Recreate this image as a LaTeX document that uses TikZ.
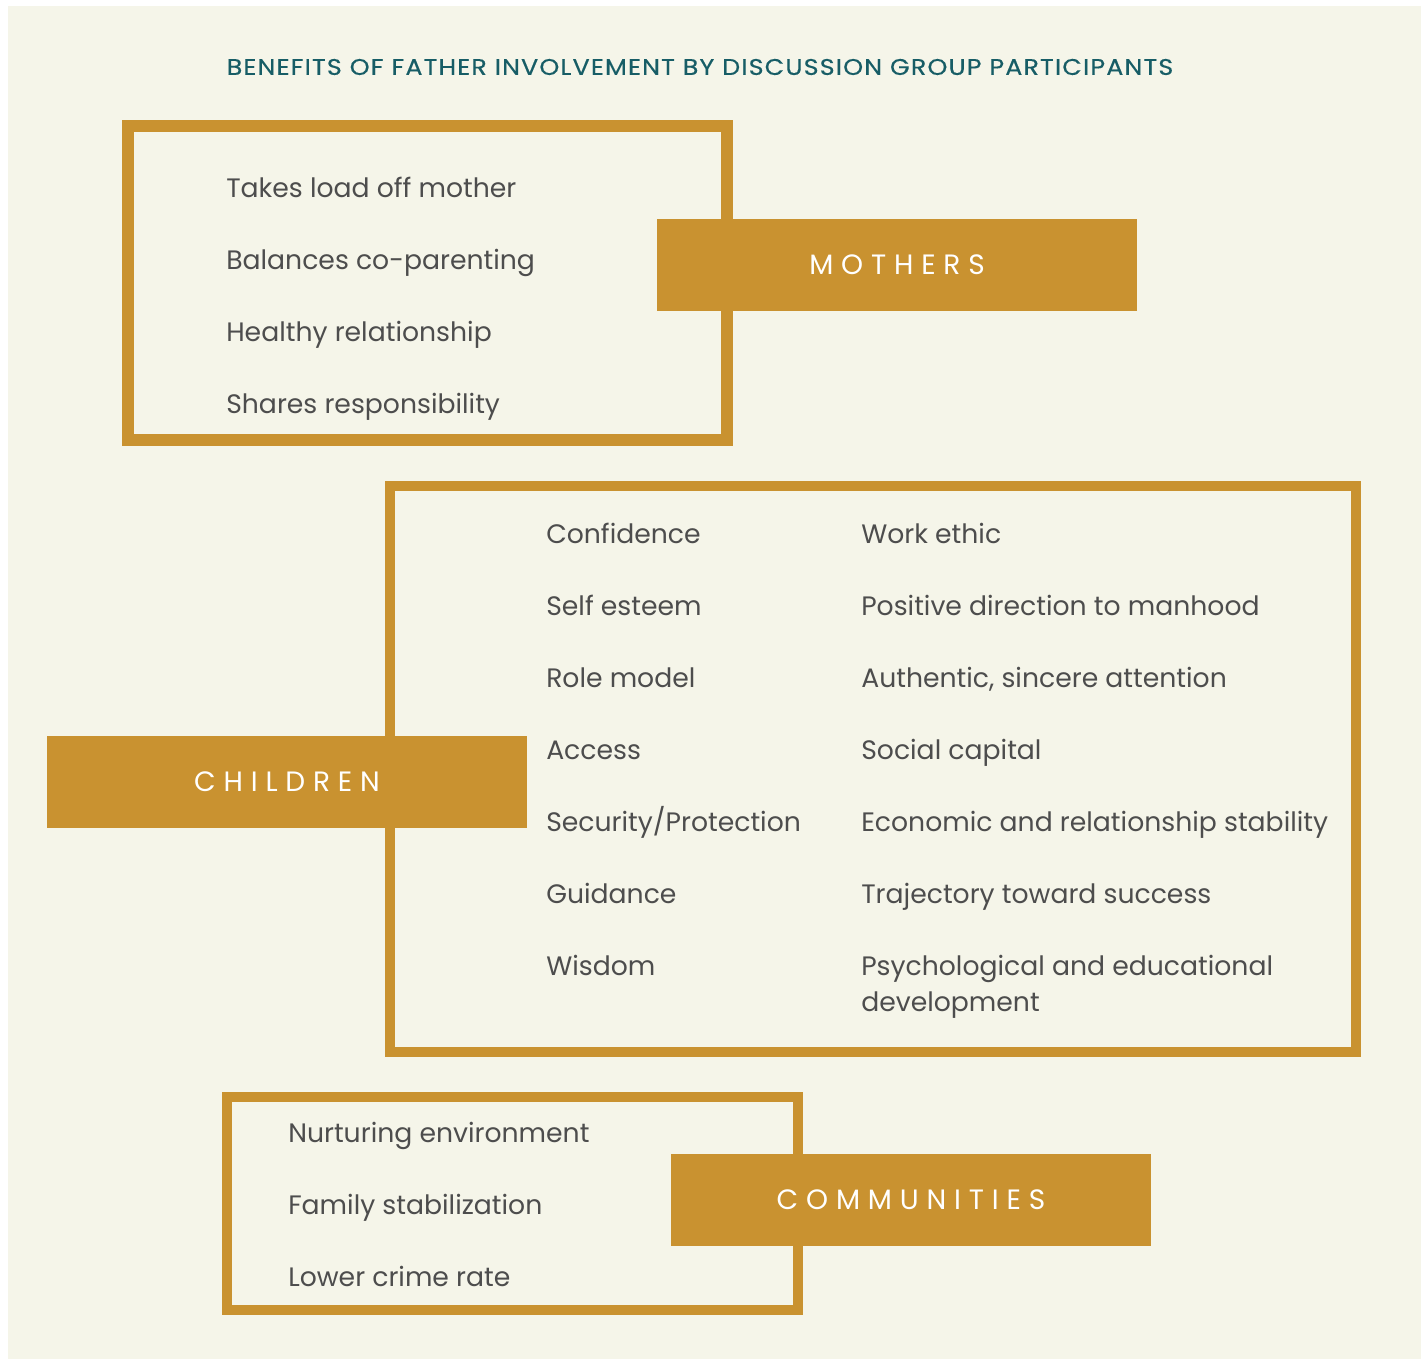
\documentclass[tikz,border=0pt]{standalone}
\usepackage{fontspec}
\setmainfont{Poppins}
\newfontfamily\tagfont[LetterSpace=28]{Poppins}
\newfontfamily\headfont[FakeStretch=1.12,LetterSpace=5,FakeBold=0.4]{Poppins}
\usetikzlibrary{positioning}
\definecolor{paper}{HTML}{F5F5E9}
\definecolor{gold}{HTML}{C99230}
\definecolor{headteal}{HTML}{175D66}
\definecolor{ink}{HTML}{4D4D4D}

\begin{document}
\begin{tikzpicture}[
    x=0.75pt, y=-0.75pt,
    frame/.style={draw=gold,line width=7.3pt},
    tag/.style={fill=gold,text=white,minimum width=360pt,minimum height=69pt,
                inner sep=0pt,font=\tagfont\fontsize{21}{24}\selectfont},
    item/.style={anchor=base west,text=ink,inner sep=0pt,align=left,
                 font=\fontsize{20}{27}\selectfont},
  ]

  \useasboundingbox (0,0) rectangle (1426,1359);
  \fill[paper] (8,6) rectangle (1421,1359);

  % --- title
  \node[text=headteal,font=\headfont\fontsize{17}{20}\selectfont] (title) at (700,67)
    {BENEFITS OF FATHER INVOLVEMENT BY DISCUSSION GROUP PARTICIPANTS};

  % --- mothers
  \draw[frame,line width=8.7pt] (128,126) rectangle (727,440);
  \node[item] (m1) at (226,197) {Takes load off mother};
  \node[item] (m2) at (226,269) {Balances co-parenting};
  \node[item] (m3) at (226,341) {Healthy relationship};
  \node[item] (m4) at (226,413) {Shares responsibility};
  \node[tag] (mothers) at (897,265) {MOTHERS};

  % --- children, left column
  \draw[frame] (390,486) rectangle (1356,1052);
  \node[item] (c1) at (546,543) {Confidence};
  \node[item] (c2) at (546,615) {Self esteem};
  \node[item] (c3) at (546,687) {Role model};
  \node[item] (c4) at (546,759) {Access};
  \node[item] (c5) at (546,831) {Security/Protection};
  \node[item] (c6) at (546,903) {Guidance};
  \node[item] (c7) at (546,975) {Wisdom};

  % --- children, right column
  \node[item] (d1) at (861,543) {Work ethic};
  \node[item] (d2) at (861,615) {Positive direction to manhood};
  \node[item] (d3) at (861,687) {Authentic, sincere attention};
  \node[item] (d4) at (861,759) {Social capital};
  \node[item] (d5) at (861,831) {Economic and relationship stability};
  \node[item] (d6) at (861,903) {Trajectory toward success};
  % two lines: the base anchor sits on the last line
  \node[item] (d7) at (861,1011) {Psychological and educational\\development};
  \node[tag] (children) at (287,782) {CHILDREN};

  % --- communities
  \draw[frame] (227,1097) rectangle (798,1310);
  \node[item] (n1) at (288,1142) {Nurturing environment};
  \node[item] (n2) at (288,1214) {Family stabilization};
  \node[item] (n3) at (288,1286) {Lower crime rate};
  \node[tag] (communities) at (911,1200) {COMMUNITIES};

\end{tikzpicture}
\end{document}
